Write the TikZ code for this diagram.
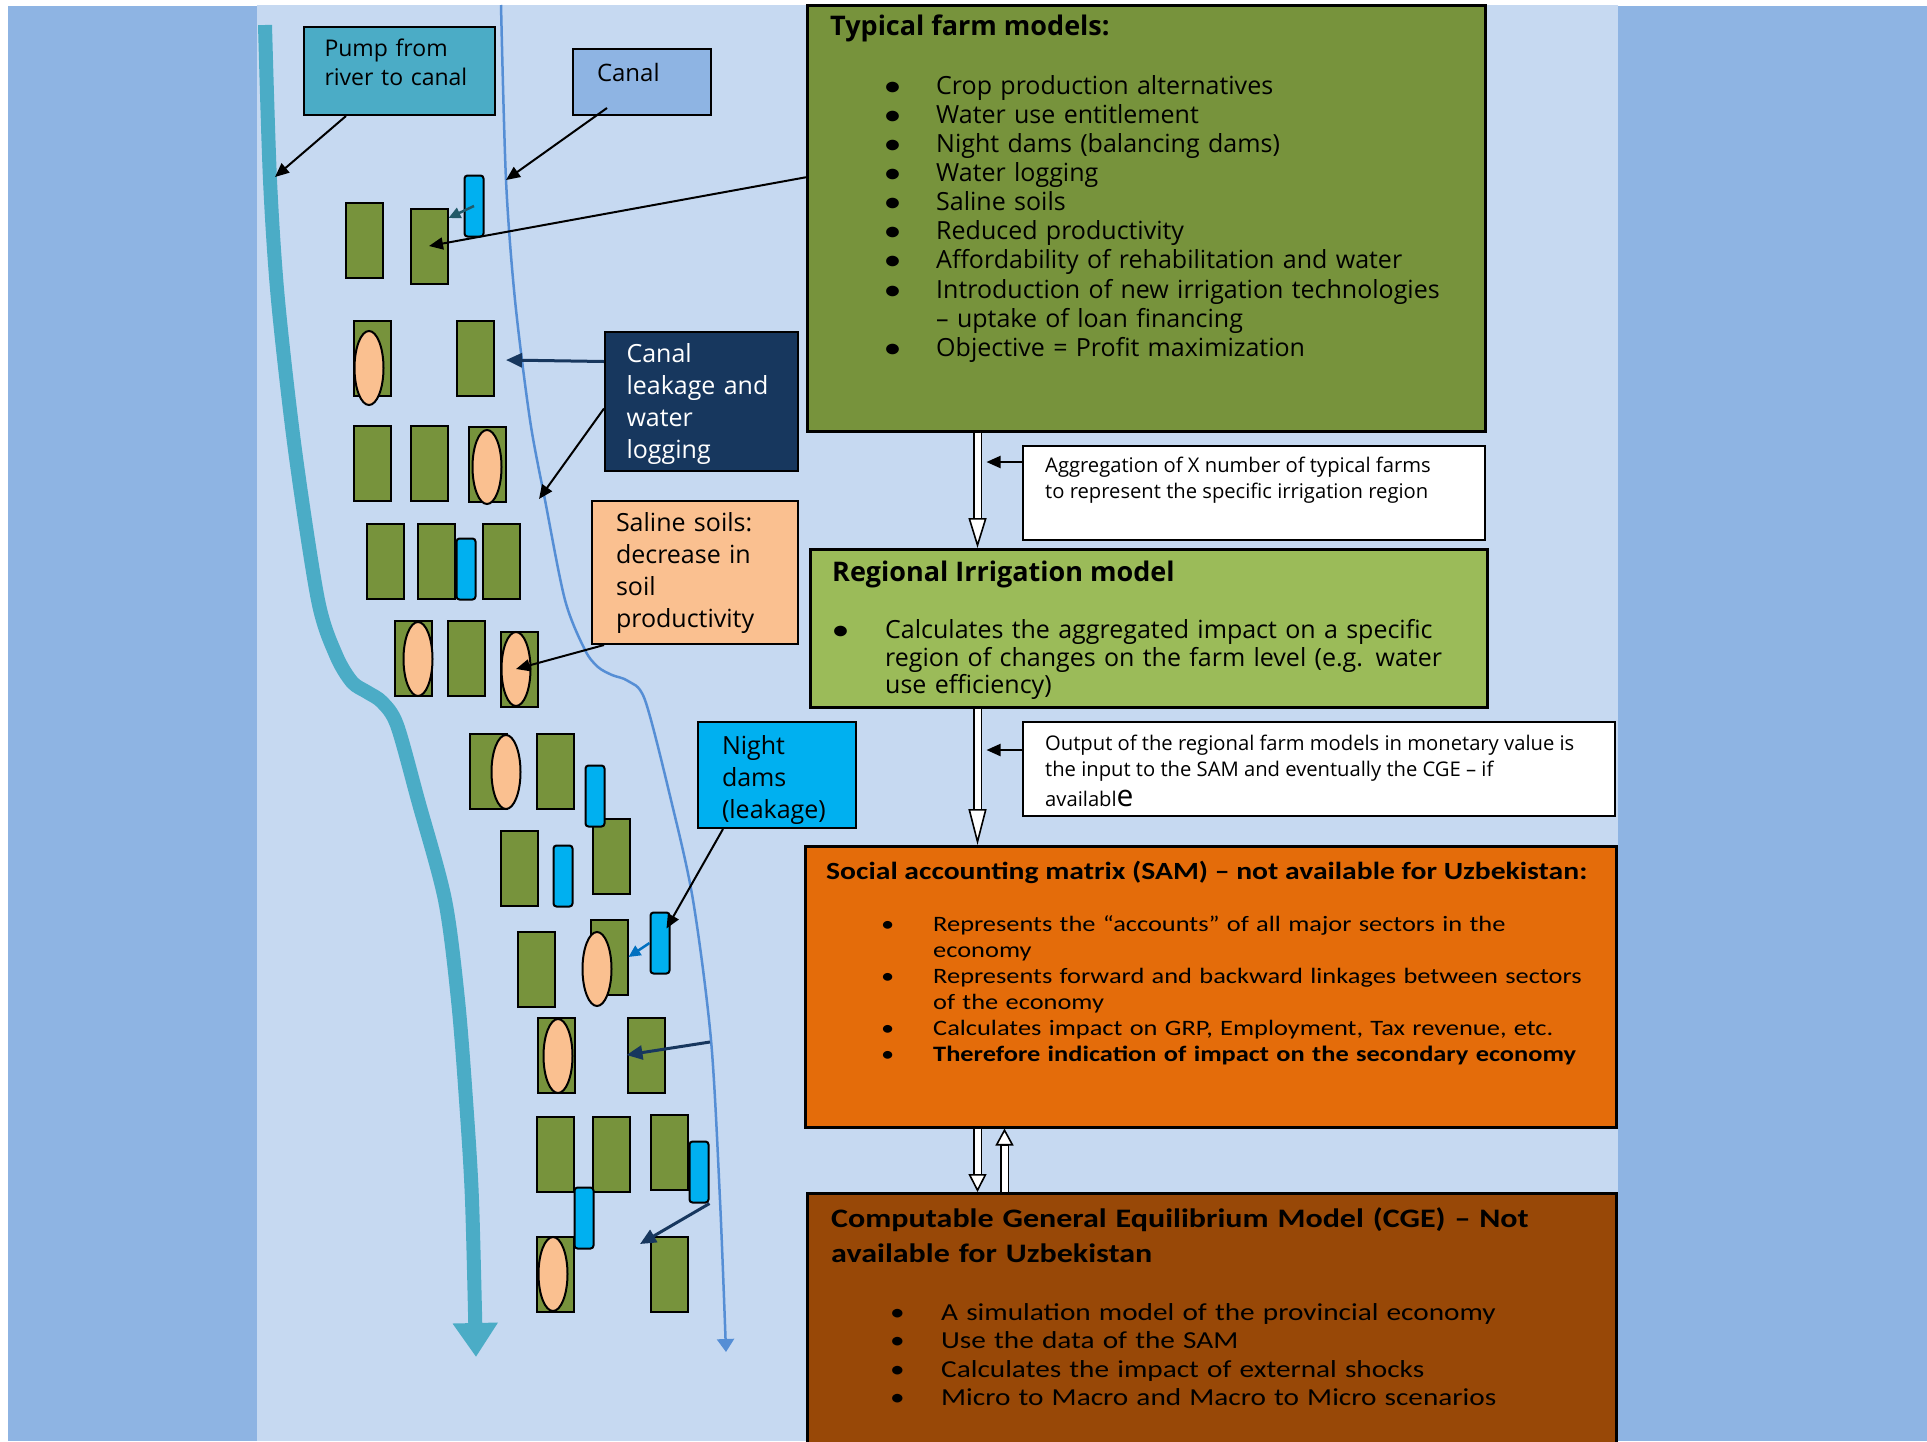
\documentclass[tikz,border=0pt]{standalone}
\usepackage{fontspec}
\setmainfont{Open Sans}
\newfontfamily\calfont[FakeStretch=1.2]{Carlito}
\usepackage{xcolor}
\usepackage{tikz}
\usetikzlibrary{positioning,shapes.geometric,calc,arrows.meta}

\definecolor{outerblue}{HTML}{8EB4E3}
\definecolor{panelblue}{HTML}{C6D9F1}
\definecolor{rivercol}{HTML}{4BACC6}
\definecolor{canalcol}{HTML}{558ED5}
\definecolor{plotgreen}{HTML}{77933C}
\definecolor{saltpink}{HTML}{FAC090}
\definecolor{damblue}{HTML}{00B0F0}
\definecolor{navy}{HTML}{17375E}
\definecolor{regiongreen}{HTML}{9BBB59}
\definecolor{samorange}{HTML}{E46C0A}
\definecolor{cgebrown}{HTML}{984807}
\definecolor{tealdark}{HTML}{215968}
\definecolor{arrowblue}{HTML}{0070C0}

% bullet lines with hanging indent
\newcommand{\bitem}[2][51pt]{\par\hangindent=#1\hangafter=1\noindent\makebox[#1][l]{{\calfont\bfseries\textbullet}}#2}
\newcommand{\citem}[2][52pt]{\par\hangindent=#1\hangafter=1\noindent\makebox[#1][l]{\textbullet}#2}

\begin{document}
\begin{tikzpicture}
        [
    x=1pt, y=-1pt,
    plot/.style={draw=black, line width=2pt, fill=plotgreen, minimum width=37, minimum height=75, inner sep=0pt},
    salt/.style={ellipse, draw=black, line width=2pt, fill=saltpink, minimum width=29, minimum height=74, inner sep=0pt},
    dam/.style={draw=black, line width=2pt, fill=damblue, rounded corners=3pt, minimum width=19, minimum height=61, inner sep=0pt},
    callout/.style={draw=black, line width=2pt, anchor=north west, align=left, inner ysep=0pt},
    modelbox/.style={draw=black, line width=2.5pt, anchor=north west, inner sep=0pt},
    boxtext/.style={anchor=north west, align=left, inner sep=0pt},
    pointer/.style={draw=black, line width=2pt, -{Triangle[length=14pt, width=12pt]}},
    leakarrow/.style={draw=navy, line width=3pt, -{Triangle[length=16pt, width=14pt]}},
    hollow/.style={draw=white, line width=6pt, shorten >=#1,
      preaction={draw=black, line width=9.5pt, shorten >=0pt,
        -{Triangle[length=#1, width=18pt, line width=1.6pt, fill=white]}}},
    hollow/.default=30pt
    ]

    \useasboundingbox (0,0) rectangle (1927,1441);
    \clip (0,0) rectangle (1927,1441);
    % Fondo
    \fill[white] (0,0) rectangle (1927,1441);
    \fill[outerblue] (8,6) rectangle (1927,1441);
    \fill[panelblue] (257,5) rectangle (1618,1441);

    % Rio y canal
    \draw[rivercol, line width=14pt, -{Triangle[length=34pt, width=43pt]}]
      plot[smooth, tension=0.5] coordinates {(265,25) (270,180) (278,300) (295,450) (318,600)
      (336,655) (352,682) (367,692) (382,702) (397,725) (418,800) (445,900) (458,1000)
      (466,1100) (472,1200) (476,1357)};
    \draw[canalcol, line width=2.5pt, -{Triangle[length=13pt, width=17pt]}]
      plot[smooth, tension=0.5] coordinates {(501,5) (506,180) (515,300) (530,420) (545,500)
      (565,600) (585,650) (598,667) (612,675) (628,681) (645,700) (671,800) (693,900)
      (711,1040) (720,1200) (726,1352)};

    % Parcelas
    \node[plot] (p1a) at (364,240) {};
    \node[plot] (p1b) at (429,246) {};
    \node[plot] (p2a) at (372,358) {};
    \node[plot] (p2b) at (475,358) {};
    \node[plot] (p3a) at (372,463) {};
    \node[plot] (p3b) at (429,463) {};
    \node[plot] (p3c) at (487,464) {};
    \node[plot] (p4a) at (385,561) {};
    \node[plot] (p4b) at (436,561) {};
    \node[plot] (p4c) at (501,561) {};
    \node[plot] (p5a) at (413,658) {};
    \node[plot] (p5b) at (466,658) {};
    \node[plot] (p5c) at (519,669) {};
    \node[plot] (p6a) at (488,771) {};
    \node[plot] (p6b) at (555,771) {};
    \node[plot] (p7a) at (519,868) {};
    \node[plot] (p7b) at (611,856) {};
    \node[plot] (p8a) at (536,969) {};
    \node[plot] (p8b) at (609,957) {};
    \node[plot] (p9a) at (556,1055) {};
    \node[plot] (p9b) at (646,1055) {};
    \node[plot] (p10a) at (555,1154) {};
    \node[plot] (p10b) at (611,1154) {};
    \node[plot] (p10c) at (669,1152) {};
    \node[plot] (p11a) at (555,1274) {};
    \node[plot] (p11b) at (669,1274) {};
    % Presas nocturnas
    \node[dam] (d1) at (474,206) {};
    \node[dam] (d4) at (466,569) {};
    \node[dam] (d6) at (595,796) {};
    \node[dam] (d7) at (563,876) {};
    \node[dam] (d8) at (660,943) {};
    \node[dam] (d10) at (699,1172) {};
    \node[dam] (d11) at (584,1218) {};
    % Suelos salinos
    \node[salt] (s2a) at (369,368) {};
    \node[salt] (s3c) at (487,467) {};
    \node[salt] (s5a) at (418,659) {};
    \node[salt] (s5c) at (516,669) {};
    \node[salt] (s6a) at (506,772) {};
    \node[salt] (s8b) at (597,969) {};
    \node[salt] (s9a) at (558,1056) {};
    \node[salt] (s11a) at (553,1274) {};

    % Etiquetas
    \node[callout, fill=rivercol, minimum width=191, minimum height=88, text width=150, inner xsep=20.5,
      font=\fontsize{23}{29}\selectfont] (pump) at (303,26) {Pump from\\river to canal\rule[-17pt]{0pt}{17pt}};
    \node[callout, fill=outerblue, minimum width=138, minimum height=66, text width=90, inner xsep=24,
      font=\fontsize{24}{29}\selectfont] (canal) at (572,48) {Canal\rule[-20pt]{0pt}{20pt}};
    \node[callout, fill=navy, text=white, minimum width=193, minimum height=139, text width=150, inner xsep=21.5,
      font=\fontsize{25}{32}\selectfont] (leak) at (604,331) {\rule{0pt}{24pt}Canal\\leakage and\\water\\logging};
    \node[callout, fill=saltpink, minimum width=206, minimum height=143, text width=158, inner xsep=24,
      font=\fontsize{25}{32}\selectfont] (saline) at (591,500) {Saline soils:\\decrease in\\soil\\productivity};
    \node[callout, fill=damblue, minimum width=158, minimum height=106, text width=110, inner xsep=24,
      font=\fontsize{25}{32}\selectfont] (night) at (697,721) {\rule{0pt}{29pt}Night\\dams\\(leakage)};

    % Flechas de las etiquetas
    \coordinate (riverhit) at (275,177);
    \coordinate (canalhit) at (506,180);
    \coordinate (leakhit) at (506,360);
    \coordinate (loghit) at (539,499);
    \coordinate (canalleak) at (710,1042);
    \coordinate (dropend) at (640,1244);
    \draw[pointer] ([xshift=43pt]pump.south west) -- (riverhit);
    \draw[pointer] ([xshift=35pt,yshift=8pt]canal.south west) -- (canalhit);
    \draw[leakarrow] ([yshift=40pt]leak.west) -- (leakhit);
    \draw[pointer] ([yshift=-7pt]leak.west) -- (loghit);
    \draw[pointer] ([xshift=13pt]saline.south west) -- (s5c.center);
    \draw[pointer] ([xshift=26pt]night.south west) -- ([xshift=-4pt,yshift=-17pt]d8.north east);
    \draw[tealdark, line width=2.5pt, -{Triangle[length=12pt, width=11pt]}] (d1.center) -- ([yshift=28pt]p1b.east);
    \draw[arrowblue, line width=2.5pt, -{Triangle[length=12pt, width=11pt]}] (d8.west) -- (p8b.east);
    \draw[leakarrow] (canalleak) -- (p9b.west);
    \draw[leakarrow] (d10.south east) -- (dropend);

    % Modelos
    \node[modelbox, fill=plotgreen, minimum width=678, minimum height=426] (farms) at (806,4) {};
    \node[boxtext, font=\bfseries\fontsize{27}{30}\selectfont] (farmtitle) at (830,15) {Typical farm models:};
    \node[boxtext, text width=600, font=\fontsize{25}{29.1}\selectfont] (farmlist) at (885,65) {%
      \bitem{Crop production alternatives}
      \bitem{Water use entitlement}
      \bitem{Night dams (balancing dams)}
      \bitem{Water logging}
      \bitem{Saline soils}
      \bitem{Reduced productivity}
      \bitem{Affordability of rehabilitation and water}
      \bitem{Introduction of new irrigation technologies\newline\textendash\ uptake of loan financing}
      \bitem{Objective = Profit maximization}\par};

    \node[modelbox, fill=white, line width=2pt, minimum width=462, minimum height=94] (agg) at (1022,445) {};
    \node[boxtext, font=\fontsize{20.2}{26}\selectfont] (aggtext) at (1045,457)
      {Aggregation of X number of typical farms\\to represent the specific irrigation region};

    \node[modelbox, fill=regiongreen, minimum width=677, minimum height=158] (region) at (809,548) {};
    \node[boxtext, font=\bfseries\fontsize{27}{30}\selectfont] (regtitle) at (832,561) {Regional Irrigation model};
    \node[boxtext, text width=640, font=\fontsize{25}{27.5}\selectfont] (reglist) at (833,611) {%
      \bitem[52pt]{Calculates the aggregated impact on a specific\newline region of changes on the farm level (e.g. water\newline use efficiency)}\par};

    \node[modelbox, fill=white, line width=2pt, minimum width=592, minimum height=94] (out) at (1022,721) {};
    \node[boxtext, font=\fontsize{20.2}{26}\selectfont] (outtext) at (1045,735)
      {Output of the regional farm models in monetary value is\\the input to the SAM and eventually the CGE \textendash\ if\\[4pt]availabl{\fontsize{30}{26}\selectfont e}};

    \node[modelbox, fill=samorange, minimum width=811, minimum height=281] (sam) at (804,845) {};
    \node[boxtext, font=\calfont\bfseries\fontsize{24.7}{30}\selectfont] (samtitle) at (826,861)
      {Social accounting matrix (SAM) \textendash\ not available for Uzbekistan:};
    \node[boxtext, text width=760, font=\calfont\fontsize{22}{26}\selectfont] (samlist) at (881,905) {%
      \citem{Represents the “accounts” of all major sectors in the\newline economy}
      \citem{Represents forward and backward linkages between sectors\newline of the economy}
      \citem{Calculates impact on GRP, Employment, Tax revenue, etc.}
      \citem{\bfseries Therefore indication of impact on the secondary economy}\par};

    \node[modelbox, fill=cgebrown, minimum width=809, minimum height=270] (cge) at (806,1192) {};
    \node[boxtext, text width=760, font=\calfont\bfseries\fontsize{26.7}{35}\selectfont] (cgetitle) at (831,1207)
      {Computable General Equilibrium Model (CGE) \textendash\ Not\\available for Uzbekistan};
    \node[boxtext, text width=760, font=\calfont\fontsize{24.4}{28.3}\selectfont] (cgelist) at (890,1292) {%
      \citem[51pt]{A simulation model of the provincial economy}
      \citem[51pt]{Use the data of the SAM}
      \citem[51pt]{Calculates the impact of external shocks}
      \citem[51pt]{Micro to Macro and Macro to Micro scenarios}\par};

    % Flechas entre modelos
    \coordinate (axis) at (977.5,0);
    \coordinate (axisup) at (1004.5,0);
    \draw[hollow] (farms.south -| axis) -- (region.north -| axis);
    \draw[hollow=36pt] (region.south -| axis) -- (sam.north -| axis);
    \draw[hollow=18pt] (sam.south -| axis) -- (cge.north -| axis);
    \draw[hollow=17pt] (cge.north -| axisup) -- (sam.south -| axisup);
    \draw[pointer] ([yshift=31pt]agg.west) -- ([xshift=9pt,yshift=31pt]agg.west -| axis);
    \draw[pointer] ([yshift=19pt]out.west) -- ([xshift=9pt,yshift=19pt]out.west -| axis);
    \draw[pointer] ([yshift=41pt]farms.west) -- (p1b.center);
\end{tikzpicture}
\end{document}
